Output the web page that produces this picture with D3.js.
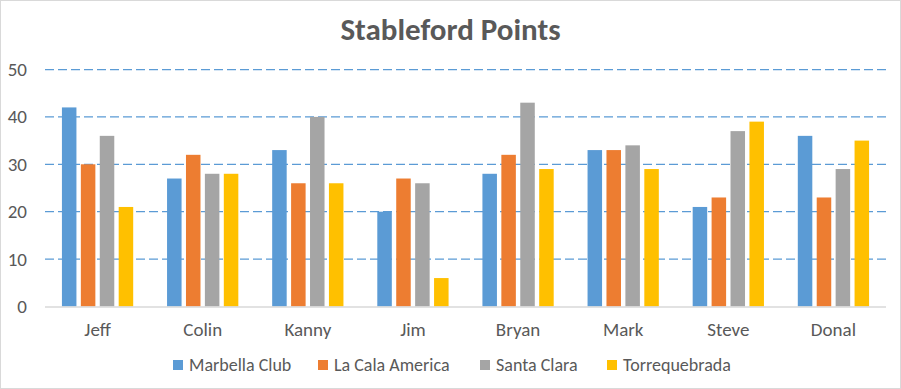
<!DOCTYPE html>
<html>
<head>
<meta charset="utf-8">
<script src="https://cdn.jsdelivr.net/npm/d3@7"></script>
<style>
  body { margin: 0; background: #fff; }
  text { font-family: Carlito, Calibri, "Open Sans", "Liberation Sans", sans-serif; }
</style>
</head>
<body>
<div id="chart"></div>
<script>
// data
var players = ["Jeff", "Colin", "Kanny", "Jim", "Bryan", "Mark", "Steve", "Donal"];
var courses = ["Marbella Club", "La Cala America", "Santa Clara", "Torrequebrada"];
var marbella = [42, 27, 33, 20, 28, 33, 21, 36];
var laCala   = [30, 32, 26, 27, 32, 33, 23, 23];
var santa    = [36, 28, 40, 26, 43, 34, 37, 29];
var torre    = [21, 28, 26, 6, 29, 29, 39, 35];
var yTicks = [0, 10, 20, 30, 40, 50];
var colors = ["#5b9bd5", "#ed7d31", "#a5a5a5", "#ffc000"];

var seriesVals = [marbella, laCala, santa, torre];

var width = 901, height = 389;
var margin = {top: 69.5, right: 15, bottom: 82.5, left: 45};

var svg = d3.select("#chart").append("svg")
    .attr("width", width)
    .attr("height", height);

// outer border
svg.append("rect")
    .attr("x", 0.5).attr("y", 0.5)
    .attr("width", width - 1).attr("height", height - 1)
    .attr("fill", "#fff")
    .attr("stroke", "#d9d9d9");

var x0 = d3.scaleBand()
    .domain(players)
    .range([margin.left, width - margin.right]);

var bw = x0.bandwidth();
var x1 = d3.scaleBand()
    .domain(courses)
    .range([bw * 0.161, bw * 0.839])
    .paddingInner(0.233);

var y = d3.scaleLinear()
    .domain([0, 50])
    .range([height - margin.bottom, margin.top]);

// title
svg.append("text")
    .attr("x", width / 2)
    .attr("y", 40)
    .attr("text-anchor", "middle")
    .attr("font-size", "31px")
    .attr("font-weight", "bold")
    .attr("fill", "#595959")
    .text("Stableford Points");

// gridlines
svg.append("g").selectAll("line")
    .data(yTicks.filter(function(d) { return d > 0; }))
  .enter().append("line")
    .attr("x1", margin.left)
    .attr("x2", width - margin.right)
    .attr("y1", function(d) { return y(d); })
    .attr("y2", function(d) { return y(d); })
    .attr("stroke", "#5b9bd5")
    .attr("stroke-width", 1.25)
    .attr("stroke-dasharray", "9,4");

// y axis labels
var yAxis = d3.axisLeft(y).tickValues(yTicks).tickSize(0).tickPadding(0);
var gy = svg.append("g")
    .attr("transform", "translate(" + 27 + ",0)")
    .call(yAxis);
gy.select(".domain").remove();
gy.selectAll("text")
    .attr("font-size", "19px")
    .attr("fill", "#595959")
    .style("font-family", null);

// bars
var groups = svg.append("g").selectAll("g")
    .data(players)
  .enter().append("g")
    .attr("transform", function(d) { return "translate(" + x0(d) + ",0)"; });

groups.selectAll("rect")
    .data(function(d, i) {
      return courses.map(function(c, j) { return {course: c, value: seriesVals[j][i], k: j}; });
    })
  .enter().append("rect")
    .attr("x", function(d) { return x1(d.course); })
    .attr("y", function(d) { return y(d.value); })
    .attr("width", x1.bandwidth())
    .attr("height", function(d) { return y(0) - y(d.value); })
    .attr("fill", function(d) { return colors[d.k]; });

// baseline
svg.append("line")
    .attr("x1", margin.left)
    .attr("x2", width - margin.right)
    .attr("y1", y(0) + 0.5)
    .attr("y2", y(0) + 0.5)
    .attr("stroke", "#d9d9d9")
    .attr("stroke-width", 1.5);

// x axis labels
var xAxis = d3.axisBottom(x0).tickSize(0).tickPadding(0);
var gx = svg.append("g")
    .attr("transform", "translate(0," + 336 + ")")
    .call(xAxis);
gx.select(".domain").remove();
gx.selectAll("text")
    .attr("y", 0)
    .attr("dy", null)
    .attr("font-size", "19px")
    .attr("fill", "#595959")
    .style("font-family", null);

// legend
var legendX = [173, 318, 480, 607];
var legend = svg.append("g").selectAll("g")
    .data(courses)
  .enter().append("g")
    .attr("transform", function(d, i) { return "translate(" + legendX[i] + ",365)"; });

legend.append("rect")
    .attr("x", 0).attr("y", -5)
    .attr("width", 10).attr("height", 10)
    .attr("fill", function(d, i) { return colors[i]; });

legend.append("text")
    .attr("x", 16)
    .attr("y", 0)
    .attr("dy", "0.35em")
    .attr("font-size", "18px")
    .attr("fill", "#595959")
    .text(function(d) { return d; });
</script>
</body>
</html>
